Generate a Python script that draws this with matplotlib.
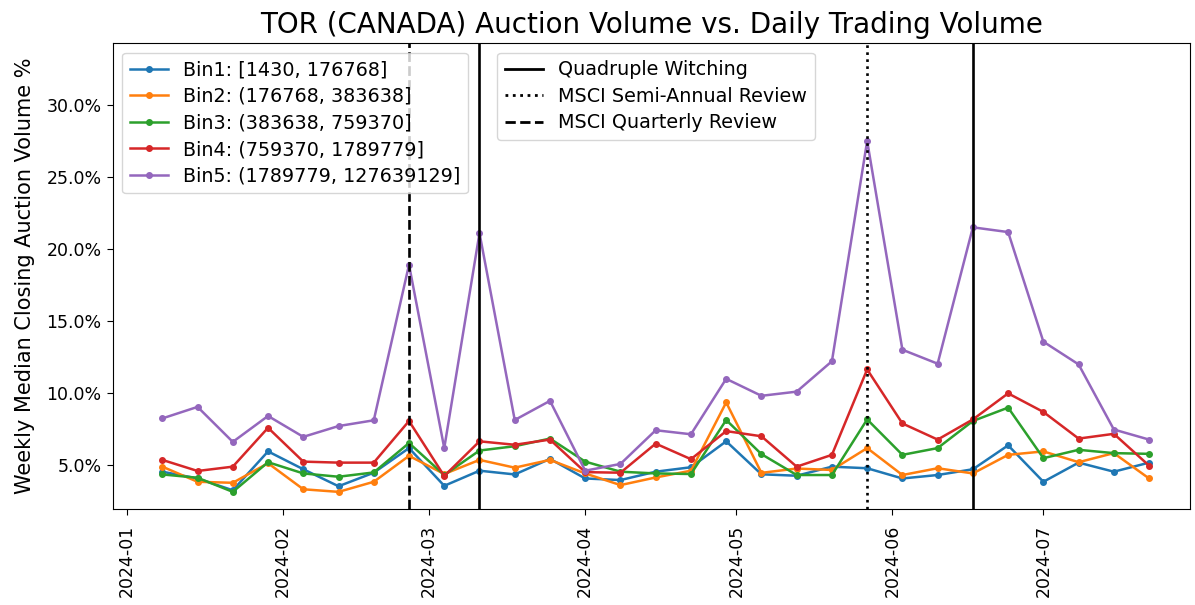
import matplotlib
matplotlib.use("Agg")
import matplotlib.pyplot as plt
import matplotlib.dates as mdates
from matplotlib.ticker import PercentFormatter
from matplotlib.lines import Line2D
import pandas as pd

dates = pd.date_range("2024-01-08", "2024-07-22", freq="7D")

bin_labels = [
    "Bin1: [1430, 176768]",
    "Bin2: (176768, 383638]",
    "Bin3: (383638, 759370]",
    "Bin4: (759370, 1789779]",
    "Bin5: (1789779, 127639129]",
]

bin1 = [4.53, 4.06, 3.24, 5.94, 4.70, 3.52, 4.46, 6.17, 3.55, 4.60, 4.34, 5.42, 4.06, 3.95, 4.53,
        4.84, 6.64, 4.35, 4.25, 4.88, 4.77, 4.06, 4.30, 4.70, 6.36, 3.83, 5.16, 4.53, 5.16]
bin2 = [4.88, 3.83, 3.76, 5.12, 3.31, 3.13, 3.83, 5.63, 4.37, 5.35, 4.81, 5.35, 4.41, 3.60, 4.13,
        4.60, 9.34, 4.45, 4.75, 4.65, 6.17, 4.30, 4.77, 4.41, 5.70, 5.94, 5.19, 5.82, 4.06]
bin3 = [4.34, 4.11, 3.13, 5.19, 4.41, 4.18, 4.48, 6.52, 4.30, 6.00, 6.30, 6.83, 5.23, 4.53, 4.41,
        4.37, 8.12, 5.75, 4.30, 4.30, 8.16, 5.70, 6.17, 8.05, 8.98, 5.47, 6.05, 5.82, 5.77]
bin4 = [5.35, 4.58, 4.88, 7.58, 5.23, 5.16, 5.16, 8.05, 4.23, 6.64, 6.40, 6.76, 4.50, 4.46, 6.48,
        5.40, 7.35, 6.99, 4.88, 5.70, 11.63, 7.88, 6.76, 8.16, 9.97, 8.68, 6.83, 7.16, 4.95]
bin5 = [8.23, 9.03, 6.60, 8.40, 6.95, 7.70, 8.10, 18.90, 6.17, 21.10, 8.12, 9.45, 4.60, 5.07, 7.41,
        7.13, 10.98, 9.80, 10.09, 12.20, 27.50, 13.00, 12.03, 21.50, 21.17, 13.56, 11.98, 7.46, 6.76]
series = [bin1, bin2, bin3, bin4, bin5]

quad_witching = ["2024-03-11", "2024-06-17"]
msci_semi = ["2024-05-27"]
msci_quarterly = ["2024-02-26"]

event_labels = ["Quadruple Witching", "MSCI Semi-Annual Review", "MSCI Quarterly Review"]

W, H = 1195, 605
fig = plt.figure(figsize=(W / 100, H / 100), dpi=100)
ax = fig.add_axes([112.6 / W, 1 - 509 / H, (1190 - 112.6) / W, (509 - 43) / H])

colors = ["#1f77b4", "#ff7f0e", "#2ca02c", "#d62728", "#9467bd"]
handles = []
for vals, lab, c in zip(series, bin_labels, colors):
    h, = ax.plot(dates, vals, marker="o", markersize=4, linewidth=1.8, color=c, label=lab)
    handles.append(h)

for d in quad_witching:
    ax.axvline(pd.Timestamp(d), color="black", linestyle="-", linewidth=1.9)
for d in msci_semi:
    ax.axvline(pd.Timestamp(d), color="black", linestyle=":", linewidth=1.9)
for d in msci_quarterly:
    ax.axvline(pd.Timestamp(d), color="black", linestyle="--", linewidth=1.9)

ax.set_xlim(pd.Timestamp("2023-12-29 03:00"), pd.Timestamp("2024-07-30 03:00"))
ax.set_ylim(1.94, 34.3)
ax.yaxis.set_major_formatter(PercentFormatter(xmax=100, decimals=1))
ax.xaxis.set_major_locator(mdates.MonthLocator())
ax.xaxis.set_major_formatter(mdates.DateFormatter("%Y-%m"))
ax.tick_params(axis="y", labelsize=12.5, length=4.5)
ax.tick_params(axis="x", labelsize=12.5, length=4.5, pad=7)
for t in ax.get_xticklabels():
    t.set_rotation(90)

ax.set_ylabel("Weekly Median Closing Auction Volume %", fontsize=15, labelpad=8)
ax.set_title("TOR (CANADA) Auction Volume vs. Daily Trading Volume", fontsize=20, pad=7)

leg1 = ax.legend(handles=handles, loc="upper left", fontsize=13.75, labelspacing=0.4)
ax.add_artist(leg1)
ev_handles = [
    Line2D([0], [0], color="black", linestyle="-", linewidth=2),
    Line2D([0], [0], color="black", linestyle=":", linewidth=2),
    Line2D([0], [0], color="black", linestyle="--", linewidth=2),
]
ax.legend(handles=ev_handles, labels=event_labels, loc="upper left",
          bbox_to_anchor=(0.348, 1.0), fontsize=13.75, labelspacing=0.4)

fig.savefig("out.png", dpi=100)
